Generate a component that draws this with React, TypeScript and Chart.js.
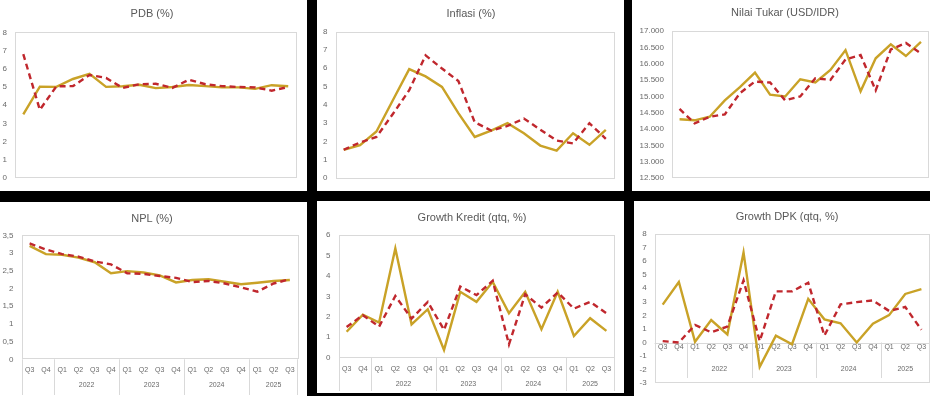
import React, { useEffect, useRef } from "react";
import { Chart, registerables } from "chart.js";

Chart.register(...registerables);

// ---------- data ----------
const quarters = ["Q3", "Q4", "Q1", "Q2", "Q3", "Q4", "Q1", "Q2", "Q3", "Q4", "Q1", "Q2", "Q3", "Q4", "Q1", "Q2", "Q3"];
const yearGroupLabels = ["", "2022", "2023", "2024", "2025"];
const yearGroupSizes = [2, 4, 4, 4, 3];

const pdbSolid = [3.5, 5.02, 5.01, 5.44, 5.72, 5.01, 5.04, 5.12, 4.94, 5.0, 5.11, 5.05, 4.98, 4.98, 4.9, 5.1, 5.04];
const pdbDashed = [6.8, 3.75, 5.04, 5.05, 5.66, 5.5, 4.95, 5.15, 5.18, 4.95, 5.4, 5.15, 5.05, 5.0, 4.98, 4.8, 5.0];

const inflasiSolid = [1.55, 1.8, 2.55, 4.25, 5.95, 5.55, 4.98, 3.55, 2.25, 2.6, 3.0, 2.45, 1.78, 1.5, 2.45, 1.82, 2.63];
const inflasiDashed = [1.55, 1.95, 2.25, 3.5, 4.8, 6.7, 5.98, 5.3, 3.05, 2.6, 2.85, 3.25, 2.65, 2.05, 1.9, 3.0, 2.15];

const kursSolid = [14300, 14270, 14380, 14880, 15285, 15730, 15055, 15000, 15525, 15425, 15810, 16415, 15155, 16165, 16590, 16235, 16670];
const kursDashed = [14620, 14175, 14380, 14450, 15100, 15455, 15425, 14880, 15000, 15555, 15505, 16130, 16265, 15185, 16435, 16635, 16315];

const nplSolid = [3.2, 2.97, 2.95, 2.87, 2.74, 2.43, 2.49, 2.45, 2.37, 2.17, 2.24, 2.26, 2.19, 2.12, 2.16, 2.21, 2.24];
const nplDashed = [3.27, 3.1, 2.97, 2.9, 2.76, 2.68, 2.43, 2.41, 2.35, 2.3, 2.18, 2.21, 2.14, 2.03, 1.91, 2.14, 2.26];

const kreditSolid = [1.27, 2.1, 1.72, 5.34, 1.63, 2.37, 0.38, 3.22, 2.73, 3.71, 2.17, 3.22, 1.39, 3.22, 1.06, 1.93, 1.31];
const kreditDashed = [1.5, 2.08, 1.52, 3.02, 1.91, 2.73, 1.36, 3.48, 3.06, 3.76, 0.65, 3.1, 2.45, 3.19, 2.4, 2.73, 2.17];

const dpkSolid = [2.79, 4.46, 0.05, 1.66, 0.59, 6.64, -1.8, 0.5, -0.13, 3.22, 1.71, 1.42, 0.0, 1.38, 2.02, 3.58, 3.93];
const dpkDashed = [0.1, 0.0, 1.3, 0.75, 1.18, 4.58, 0.1, 3.77, 3.77, 4.41, 0.51, 2.81, 2.98, 3.1, 2.33, 2.62, 0.94];

// ---------- styles ----------
const GOLD = "#C9A227";
const RED = "#C0272D";
const TEXT = "#595959";
const TICK = "#6a6a6a";
const BORDER = "#D9D9D9";
const FONT = "'Liberation Sans', Arial, sans-serif";

type Panel = {
  title: string;
  left: number;
  top: number;
  w: number;
  h: number;
  pl: number;
  pt: number;
  pr: number;
  pb: number;
  titleX: number;
  titleY: number;
  yMin: number;
  yMax: number;
  step: number;
  solid: number[];
  dashed: number[];
  xLabels: boolean;
  axisAtZero?: boolean;
  qOff?: number;
  yearOff?: number;
  sepBottom?: number;
};

const fmt = (v: number) => {
  const n = Math.round(v * 100) / 100;
  if (Math.abs(n) >= 1000) {
    const s = Math.round(n).toString();
    return s.replace(/\B(?=(\d{3})+(?!\d))/g, ".");
  }
  return n.toString().replace(".", ",");
};

const panels: Panel[] = [
  { title: "PDB (%)", left: 0, top: 0, w: 307, h: 191, pl: 15, pt: 32.3, pr: 296.5, pb: 181.8, titleX: 152, titleY: 14, yMin: 0, yMax: 8, step: 1, solid: pdbSolid, dashed: pdbDashed, xLabels: false },
  { title: "Inflasi (%)", left: 317, top: 0, w: 307, h: 191, pl: 18.5, pt: 31.5, pr: 297, pb: 179.3, titleX: 154, titleY: 14, yMin: 0, yMax: 8, step: 1, solid: inflasiSolid, dashed: inflasiDashed, xLabels: false },
  { title: "Nilai Tukar (USD/IDR)", left: 632, top: 0, w: 298, h: 191, pl: 40, pt: 31, pr: 296.5, pb: 179.3, titleX: 153, titleY: 12.7, yMin: 12500, yMax: 17000, step: 500, solid: kursSolid, dashed: kursDashed, xLabels: false },
  { title: "NPL (%)", left: 0, top: 202, w: 307, h: 194, pl: 21.5, pt: 33.3, pr: 298, pb: 157.3, titleX: 152, titleY: 16.7, yMin: 0, yMax: 3.5, step: 0.5, solid: nplSolid, dashed: nplDashed, xLabels: true, qOff: 10.5, yearOff: 25.5, sepBottom: 193 },
  { title: "Growth Kredit (qtq, %)", left: 317, top: 201, w: 307, h: 192, pl: 21.5, pt: 34, pr: 297.5, pb: 156.7, titleX: 155, titleY: 16.7, yMin: 0, yMax: 6, step: 1, solid: kreditSolid, dashed: kreditDashed, xLabels: true, qOff: 11.5, yearOff: 26.5, sepBottom: 190 },
  { title: "Growth DPK (qtq, %)", left: 634, top: 201, w: 296, h: 195, pl: 20.6, pt: 33, pr: 295.5, pb: 186.7, titleX: 153, titleY: 15.7, yMin: -3, yMax: 8, step: 1, solid: dpkSolid, dashed: dpkDashed, xLabels: true, axisAtZero: true, qOff: 5, yearOff: 27, sepBottom: 177 },
];

function ChartPanel({ p }: { p: Panel }) {
  const ref = useRef<HTMLCanvasElement | null>(null);

  useEffect(() => {
    const canvas = ref.current;
    if (!canvas) return;

    const decor = {
      id: "decor",
      beforeDatasetsDraw(chart: any) {
        const ctx = chart.ctx;
        const a = chart.chartArea;
        ctx.save();
        ctx.strokeStyle = BORDER;
        ctx.lineWidth = 1;
        ctx.strokeRect(Math.round(a.left) + 0.5, Math.round(a.top) + 0.5, Math.round(a.right - a.left) - 1, Math.round(a.bottom - a.top) - 1);
        if (p.xLabels) {
          const xs = chart.scales.x;
          const ys = chart.scales.y;
          const axisY = p.axisAtZero ? ys.getPixelForValue(0) : a.bottom;
          if (p.axisAtZero) {
            ctx.beginPath();
            ctx.moveTo(a.left, Math.round(axisY) + 0.5);
            ctx.lineTo(a.right, Math.round(axisY) + 0.5);
            ctx.stroke();
          }
          const bounds: number[] = [a.left];
          let idx = 0;
          yearGroupSizes.forEach((n) => {
            idx += n;
            if (idx < quarters.length) {
              bounds.push((xs.getPixelForValue(idx - 1) + xs.getPixelForValue(idx)) / 2);
            }
          });
          bounds.push(a.right);
          ctx.beginPath();
          bounds.forEach((bx, i) => {
            const x = Math.round(bx) + (i === bounds.length - 1 ? -0.5 : 0.5);
            ctx.moveTo(x, axisY);
            ctx.lineTo(x, p.sepBottom as number);
          });
          ctx.stroke();
          ctx.fillStyle = TICK;
          ctx.font = `7px ${FONT}`;
          ctx.textAlign = "center";
          ctx.textBaseline = "middle";
          quarters.forEach((q, i) => {
            ctx.fillText(q, xs.getPixelForValue(i), axisY + (p.qOff as number));
          });
          let start = 0;
          yearGroupSizes.forEach((n, g) => {
            const cx = (xs.getPixelForValue(start) + xs.getPixelForValue(start + n - 1)) / 2;
            if (yearGroupLabels[g]) ctx.fillText(yearGroupLabels[g], cx, axisY + (p.yearOff as number));
            start += n;
          });
        }
        ctx.restore();
      },
      afterDraw(chart: any) {
        const ctx = chart.ctx;
        ctx.save();
        ctx.fillStyle = TEXT;
        ctx.font = `11px ${FONT}`;
        ctx.textAlign = "center";
        ctx.textBaseline = "middle";
        ctx.fillText(p.title, p.titleX, p.titleY);
        ctx.restore();
      },
    };

    const chart = new Chart(canvas, {
      type: "line",
      data: {
        labels: quarters,
        datasets: [
          {
            label: "dashed",
            data: p.dashed,
            borderColor: RED,
            borderWidth: 2.4,
            borderDash: [6, 4],
            pointRadius: 0,
            tension: 0,
            fill: false,
          },
          {
            label: "solid",
            data: p.solid,
            borderColor: GOLD,
            borderWidth: 2.4,
            pointRadius: 0,
            tension: 0,
            fill: false,
          },
        ],
      },
      options: {
        animation: false,
        responsive: false,
        maintainAspectRatio: false,
        events: [],
        layout: { padding: { top: p.pt, right: p.w - p.pr, bottom: 0, left: 0 } },
        plugins: {
          legend: { display: false },
          tooltip: { enabled: false },
          title: { display: false },
        },
        scales: {
          x: {
            type: "category",
            offset: true,
            grid: { display: false, drawTicks: false },
            border: { display: false },
            ticks: { display: false },
            afterFit: (s: any) => {
              s.height = p.h - p.pb;
            },
          },
          y: {
            min: p.yMin,
            max: p.yMax,
            grid: { display: false, drawTicks: false },
            border: { display: false },
            ticks: {
              stepSize: p.step,
              padding: 8,
              color: TICK,
              font: { family: FONT, size: 8 },
              callback: (v: any) => fmt(Number(v)),
            },
            afterFit: (s: any) => {
              s.width = p.pl;
            },
          },
        },
      },
      plugins: [decor],
    } as any);

    return () => chart.destroy();
  }, [p]);

  return (
    <div
      style={{
        position: "absolute",
        left: p.left,
        top: p.top,
        width: p.w,
        height: p.h,
        background: "#ffffff",
      }}
    >
      <canvas ref={ref} width={p.w} height={p.h} style={{ width: p.w, height: p.h, display: "block" }} />
    </div>
  );
}

export default function App() {
  return (
    <div
      style={{
        position: "fixed",
        left: 0,
        top: 0,
        width: 930,
        height: 396,
        background: "#000000",
        overflow: "hidden",
      }}
    >
      {panels.map((p, i) => (
        <ChartPanel key={i} p={p} />
      ))}
    </div>
  );
}
